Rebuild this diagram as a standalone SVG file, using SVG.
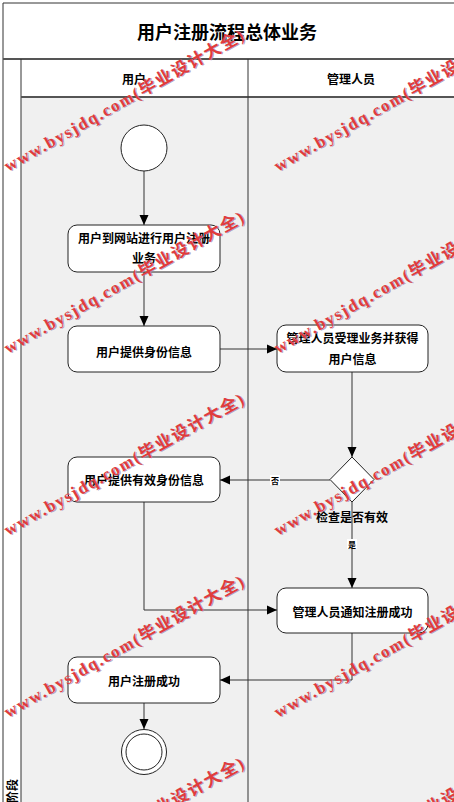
<svg xmlns="http://www.w3.org/2000/svg" width="454" height="802" viewBox="0 0 454 802">
<style>
.frame{stroke:#333;stroke-width:1;fill:none}
.thick{stroke:#555;stroke-width:2;fill:none}
.node{fill:#fff;stroke:#222;stroke-width:1}
.t{font-family:"Noto Sans CJK SC","Liberation Sans",sans-serif;font-weight:bold;fill:#000;text-anchor:middle;dominant-baseline:central}
.conn{stroke:#333;stroke-width:1;fill:none;marker-end:url(#arr)}
.wm{font-family:"Liberation Serif","Noto Sans CJK SC",serif;font-weight:bold;font-size:17px}
</style>
<defs>
<marker id="arr" markerUnits="userSpaceOnUse" markerWidth="10" markerHeight="10" viewBox="0 0 10 10" refX="10" refY="5" orient="auto">
<path d="M0,0.5 L10,5 L0,9.5 Z" fill="#000"/>
</marker>
<g id="wmark">
<text class="wm" x="1" y="1" fill="#9a90b8" fill-opacity="0.8" textLength="272" lengthAdjust="spacing">www.bysjdq.com(毕业设计大全)</text>
<text class="wm" x="0" y="0" fill="#e03c3c" textLength="272" lengthAdjust="spacing">www.bysjdq.com(毕业设计大全)</text>
</g>
</defs>
<g id="background">
<rect x="0" y="0" width="454" height="802" fill="#fff"/>
<rect x="21" y="97" width="433" height="705" fill="#f0f0f0"/>
<line class="frame" x1="3" y1="3" x2="454" y2="3"/>
<line class="frame" x1="3" y1="3" x2="3" y2="802"/>
<line class="thick" x1="3" y1="59" x2="454" y2="59"/>
<line class="frame" x1="21" y1="59" x2="21" y2="802"/>
<line class="thick" x1="21" y1="97" x2="454" y2="97"/>
<line class="frame" x1="248" y1="59" x2="248" y2="802"/>
<text class="t" x="227" y="31" font-size="18">用户注册流程总体业务</text>
<text class="t" x="134" y="78" font-size="12">用户</text>
<text class="t" x="351" y="78" font-size="12">管理人员</text>
<text class="t" font-size="12" transform="translate(11,791) rotate(-90)">阶段</text>
</g>
<g id="connectors">
<path class="conn" d="M144,171 V225"/>
<path class="conn" d="M144,272 V326"/>
<path class="conn" d="M220,349 H277"/>
<path class="conn" d="M352,372 V457"/>
<path class="conn" d="M330,480 H220"/>
<path class="conn" d="M352,502 V588"/>
<path class="conn" d="M144,502 V610 H277"/>
<path class="conn" d="M352,633 V680 H220"/>
<path class="conn" d="M144,703 V729"/>
<rect x="270" y="475" width="10" height="10" fill="#fff"/>
<text class="t" x="275" y="480" font-size="8">否</text>
<rect x="347" y="539" width="10" height="10" fill="#fff"/>
<text class="t" x="352" y="544" font-size="8">是</text>
</g>
<g id="start">
<circle class="node" cx="144" cy="148" r="23"/>
</g>
<g id="n1">
<rect class="node" x="68" y="225" width="152" height="47" rx="9"/>
<text class="t" x="144" y="237" font-size="12">用户到网站进行用户注册</text>
<text class="t" x="144" y="257" font-size="12">业务</text>
</g>
<g id="n2">
<rect class="node" x="68" y="326" width="152" height="46" rx="9"/>
<text class="t" x="144" y="351" font-size="12">用户提供身份信息</text>
</g>
<g id="n3">
<rect class="node" x="277" y="325" width="151" height="47" rx="9"/>
<text class="t" x="352.5" y="337" font-size="12">管理人员受理业务并获得</text>
<text class="t" x="352.5" y="358" font-size="12">用户信息</text>
</g>
<g id="decision">
<polygon class="node" points="352,457 374,479.5 352,502 330,479.5"/>
<text class="t" x="352" y="516" font-size="12">检查是否有效</text>
</g>
<g id="n4">
<rect class="node" x="68" y="457" width="152" height="45" rx="9"/>
<text class="t" x="144" y="479.5" font-size="12">用户提供有效身份信息</text>
</g>
<g id="n5">
<rect class="node" x="277" y="588" width="151" height="45" rx="9"/>
<text class="t" x="352.5" y="611" font-size="12">管理人员通知注册成功</text>
</g>
<g id="n6">
<rect class="node" x="68" y="657" width="152" height="46" rx="9"/>
<text class="t" x="144" y="680" font-size="12">用户注册成功</text>
</g>
<g id="end">
<circle class="node" cx="144" cy="752" r="22.5"/>
<circle class="node" cx="144" cy="752" r="18"/>
</g>
<g id="watermark">
<use href="#wmark" transform="translate(8,172) rotate(-29.3)"/>
<use href="#wmark" transform="translate(278,172) rotate(-29.3)"/>
<use href="#wmark" transform="translate(8,354) rotate(-29.3)"/>
<use href="#wmark" transform="translate(278,354) rotate(-29.3)"/>
<use href="#wmark" transform="translate(8,536) rotate(-29.3)"/>
<use href="#wmark" transform="translate(278,536) rotate(-29.3)"/>
<use href="#wmark" transform="translate(8,718) rotate(-29.3)"/>
<use href="#wmark" transform="translate(278,718) rotate(-29.3)"/>
<use href="#wmark" transform="translate(8,900) rotate(-29.3)"/>
<use href="#wmark" transform="translate(278,900) rotate(-29.3)"/>
</g>
</svg>
